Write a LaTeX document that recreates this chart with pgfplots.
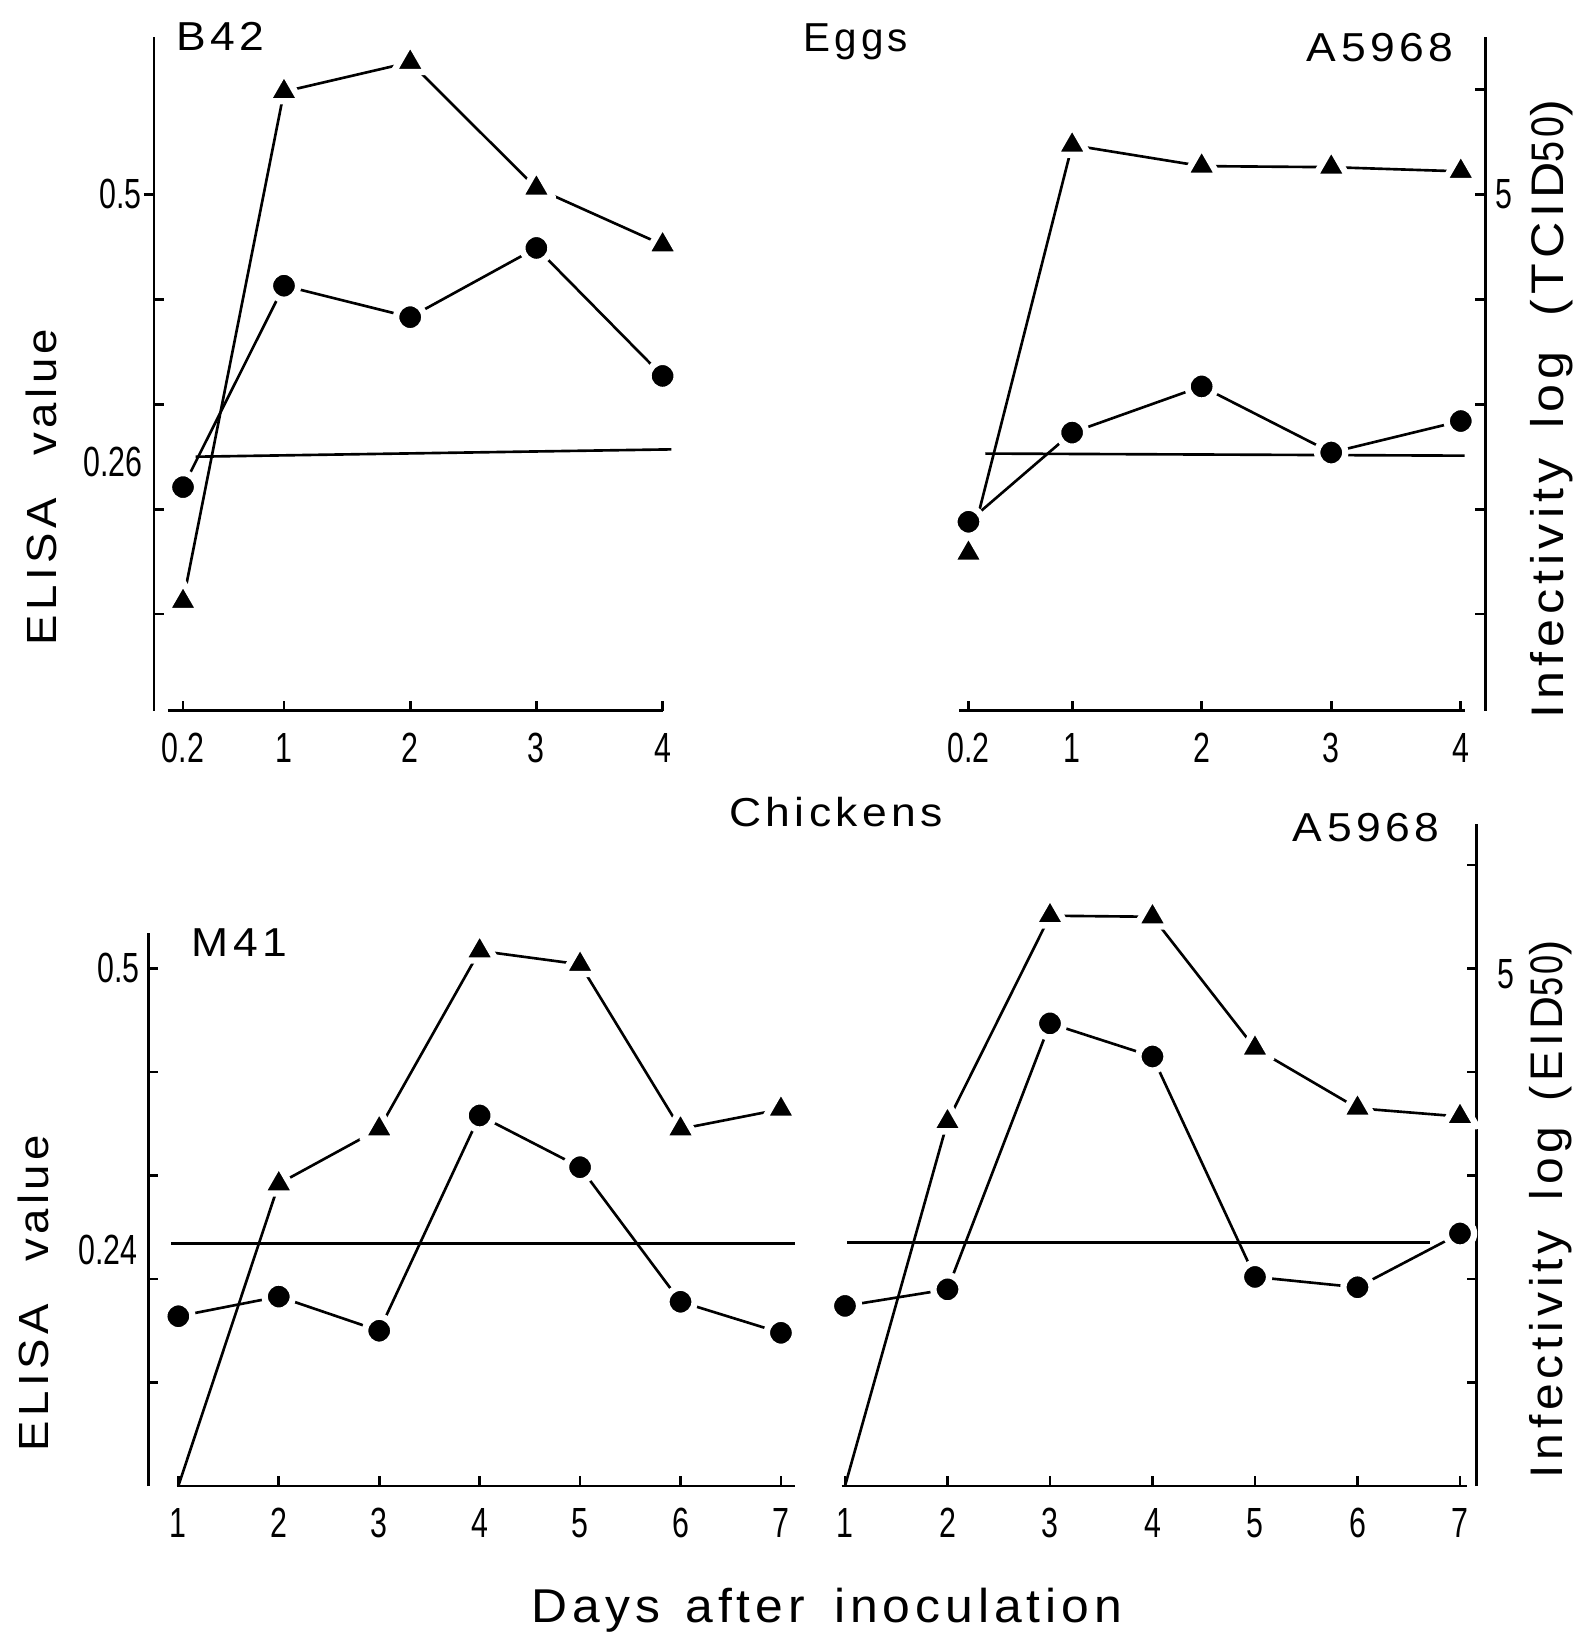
\documentclass[border=0pt]{standalone}
\usepackage{pgfplots}
\pgfplotsset{compat=1.18}
\usepackage{pgfplotstable}
\usepackage{fontspec}
\setmainfont{Liberation Sans}
\newfontfamily\lsfont{Liberation Sans}[LetterSpace=10]
\newcommand\narrow[1]{\scalebox{0.72}[1]{#1}}
\newcommand\wide[2]{\scalebox{#1}[1]{#2}}

% Eggs, B42 (x = day, tri = infectivity, cir = ELISA)
\pgfplotstableread{
d tri cir
0.2 1.12 2.21
1 5.98 4.13
2 6.26 3.83
3 5.06 4.49
4 4.52 3.27
}\tlData
% Eggs, A5968
\pgfplotstableread{
d tri cir
0.2 1.58 1.88
1 5.47 2.73
2 5.27 3.17
3 5.26 2.54
4 5.22 2.84
}\trData
% Chickens, M41
\pgfplotstableread{
d tri cir
1 0.00 1.64
2 2.92 1.83
3 3.45 1.50
4 5.17 3.58
5 5.04 3.08
6 3.45 1.78
7 3.64 1.48
}\blData
% Chickens, A5968
\pgfplotstableread{
d tri cir
1 0.00 1.74
2 3.52 1.90
3 5.51 4.47
4 5.50 4.15
5 4.23 2.02
6 3.65 1.92
7 3.57 2.44
}\brData

\pgfplotsset{
  panel/.style={
    scale only axis, clip=false,
    anchor=south west,
    axis line style={line width=0.8pt, black},
    tick style={line width=0.8pt, black},
    major tick length=1mm,
    tick align=inside,
    every tick label/.append style={inner sep=0.5pt, font=\fontsize{12}{14}\selectfont},
    xticklabel style={yshift=-2mm},
  },
  tri/.style={black, line width=0.75pt, mark=triangle*, mark size=5.5pt,
    mark options={fill=black, draw=white, line width=1.8pt, line join=round, solid}},
  cir/.style={black, line width=0.75pt, mark=*, mark size=4pt,
    mark options={fill=black, draw=white, line width=1.8pt, solid}},
  cut/.style={black, line width=0.75pt, no marks},
}

\begin{document}
\begin{tikzpicture}
\path[use as bounding box] (0,0) rectangle (158.1mm,163.3mm);

% ---------------- top left: Eggs B42
\begin{axis}[panel, at={(15.4mm,92.24mm)}, width=50.86mm, height=67.35mm,
  xmin=-0.03, xmax=4, ymin=0.08, ymax=6.5,
  axis x line*=bottom, axis y line*=left,
  x axis line style={shorten <=1.4mm},
  xtick={0.2,1,2,3,4},
  xticklabels={\narrow{0.2},\narrow{1},\narrow{2},\narrow{3},\narrow{4}},
  ytick={1,2,3,4}, yticklabels={,,,},
  extra y ticks={5}, extra y tick labels={\narrow{0.5}},
  extra y tick style={tick align=outside},
]
\addplot[cut] coordinates {(0.30,2.50) (4.07,2.57)};
\addplot[tri] table[x=d,y=tri]{\tlData};
\addplot[cir] table[x=d,y=cir]{\tlData};
\node[anchor=east, inner sep=0pt, xshift=-1.1mm, font=\fontsize{12}{14}\selectfont]
  at (axis cs:-0.03,2.45) {\narrow{0.26}};
\end{axis}

% ---------------- top right: Eggs A5968
\begin{axis}[panel, at={(95.9mm,92.24mm)}, width=52.64mm, height=67.35mm,
  xmin=0.127, xmax=4.19, ymin=0.08, ymax=6.5,
  axis x line*=bottom, axis y line*=right,
  x axis line style={shorten >=2mm},
  xtick={0.2,1,2,3,4},
  xticklabels={\narrow{0.2},\narrow{1},\narrow{2},\narrow{3},\narrow{4}},
  ytick={1,2,3,4,5,6}, yticklabels={,,,,\narrow{5},},
  yticklabel pos=right, yticklabel style={xshift=0.8mm},
]
\addplot[cut] coordinates {(0.33,2.53) (4.03,2.51)};
\addplot[tri] table[x=d,y=tri]{\trData};
\addplot[cir] table[x=d,y=cir]{\trData};
\end{axis}

% ---------------- bottom left: Chickens M41
\begin{axis}[panel, at={(14.82mm,14.7mm)}, width=64.68mm, height=55.27mm,
  xmin=0.70, xmax=7.14, ymin=0, ymax=5.34,
  axis x line*=bottom, axis y line*=left,
  x axis line style={shorten <=2.85mm},
  xtick={1,2,3,4,5,6,7},
  xticklabels={\narrow{1},\narrow{2},\narrow{3},\narrow{4},\narrow{5},\narrow{6},\narrow{7}},
  ytick={1,2,3,4,5}, yticklabels={,,,,\narrow{0.5}},
  yticklabel style={xshift=-0.6mm},
]
\addplot[cut] coordinates {(0.93,2.34) (7.14,2.34)};
\addplot[tri, mark indices={2,3,4,5,6,7}] table[x=d,y=tri]{\blData};
\addplot[cir] table[x=d,y=cir]{\blData};
\node[anchor=east, inner sep=0pt, xshift=-1mm, font=\fontsize{12}{14}\selectfont]
  at (axis cs:0.70,2.28) {\narrow{0.24}};
\end{axis}

% ---------------- bottom right: Chickens A5968
\begin{axis}[panel, at={(84.17mm,14.7mm)}, width=63.5mm, height=66.24mm,
  xmin=0.968, xmax=7.163, ymin=0, ymax=6.40,
  axis x line*=bottom, axis y line*=right,
  x axis line style={shorten >=1mm},
  xtick={1,2,3,4,5,6,7},
  xticklabels={\narrow{1},\narrow{2},\narrow{3},\narrow{4},\narrow{5},\narrow{6},\narrow{7}},
  ytick={1,2,3,4,5,6}, yticklabels={,,,,\narrow{5},},
  yticklabel pos=right, yticklabel style={xshift=1.8mm, yshift=-0.6mm},
]
\addplot[cut] coordinates {(1.02,2.35) (6.71,2.35)};
\addplot[tri, mark indices={2,3,4,5,6,7}] table[x=d,y=tri]{\brData};
\addplot[cir] table[x=d,y=cir]{\brData};
\end{axis}

% ---------------- texts
\begin{scope}[every node/.style={inner sep=0pt}]
\node[anchor=base west] at (17.6mm,158.2mm) {\fontsize{11.5}{13}\lsfont\wide{1.1}{B42}};
\node[anchor=base] at (85.6mm,158.1mm) {\fontsize{11.5}{13}\lsfont\wide{1.0}{Eggs}};
\node[anchor=base east] at (145.4mm,157.1mm) {\fontsize{11.5}{13}\lsfont\wide{1.1}{A5968}};
\node[anchor=base] at (83.6mm,80.63mm) {\fontsize{11.5}{13}\lsfont\wide{1.1}{Chickens}};
\node[anchor=base east] at (144.0mm,79.13mm) {\fontsize{11.5}{13}\lsfont\wide{1.1}{A5968}};
\node[anchor=base west] at (19.1mm,67.63mm) {\fontsize{11.5}{13}\lsfont\wide{1.1}{M41}};

\node[rotate=90, anchor=base] at (5.6mm,114.6mm)
  {\fontsize{12}{14}\lsfont\wide{1.08}{ELISA}\hspace{4.2mm}\wide{1.08}{value}};
\node[rotate=90, anchor=base] at (4.85mm,34.0mm)
  {\fontsize{12}{14}\lsfont\wide{1.08}{ELISA}\hspace{4.2mm}\wide{1.08}{value}};

\node[rotate=90, anchor=base west] at (156.3mm,91.4mm)
  {\fontsize{13}{15}\lsfont\wide{1.1}{Infectivity}\hspace{3mm}\wide{1.1}{log}\hspace{3.5mm}\wide{1.1}{(TCID\scalebox{0.75}[1]{50})}};
\node[rotate=90, anchor=base west] at (156.2mm,15.4mm)
  {\fontsize{13}{15}\lsfont\wide{1.05}{Infectivity}\hspace{3mm}\wide{1.05}{log}\hspace{2.5mm}\wide{1.0}{(EID\scalebox{0.75}[1]{50})}};

\node[anchor=base] at (82.7mm,1.0mm)
  {\fontsize{13.5}{16}\lsfont\wide{1.05}{Days}\hspace{2.5mm}\wide{1.05}{after}\hspace{2.9mm}\wide{1.05}{inoculation}};
\end{scope}
\end{tikzpicture}
\end{document}
